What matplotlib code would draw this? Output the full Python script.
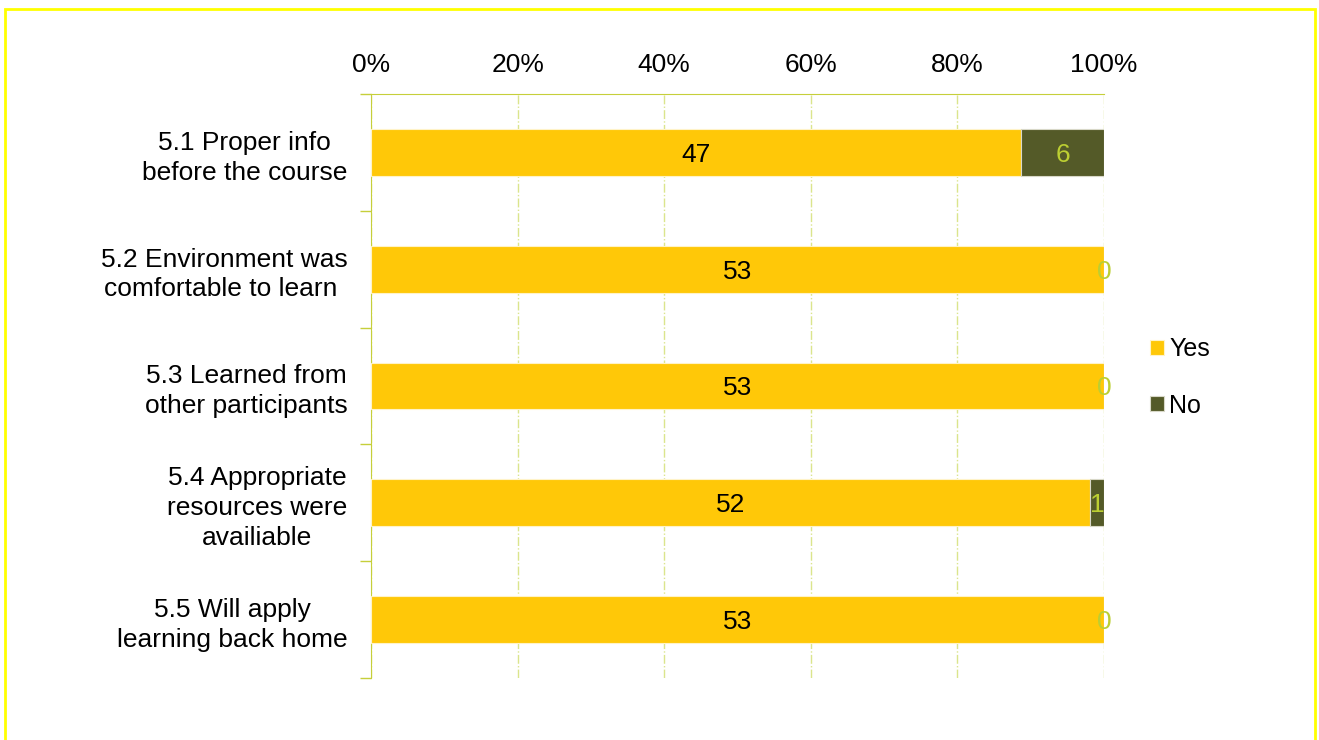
import matplotlib.pyplot as plt
from matplotlib.patches import Rectangle

plt.rcParams['font.family'] = ['Liberation Sans', 'DejaVu Sans']

categories = ["5.1 Proper info\nbefore the course",
              "5.2 Environment was\ncomfortable to learn ",
              "5.3 Learned from\nother participants",
              "5.4 Appropriate\nresources were\navailiable",
              "5.5 Will apply\nlearning back home"]
yes_counts = [47, 53, 53, 52, 53]
no_counts = [6, 0, 0, 1, 0]
x_ticks = [0, 20, 40, 60, 80, 100]

yellow = '#ffc808'
olive = '#545a28'
green_txt = '#bccf32'
axis_col = '#c6cf3a'
grid_col = '#dbe58c'

fig = plt.figure(figsize=(13.19, 7.40), dpi=100)
ax = fig.add_axes([0.2813, 0.0838, 0.5557, 0.7892])

pos = list(range(len(categories)))
tot = [y + n for y, n in zip(yes_counts, no_counts)]
yes_pct = [100 * y / t for y, t in zip(yes_counts, tot)]
no_pct = [100 * n / t for n, t in zip(no_counts, tot)]

bars_yes = ax.barh(pos, yes_pct, height=0.4, color=yellow, edgecolor='#fff3c8',
                   linewidth=0.8, label='Yes', zorder=3)
bars_no = ax.barh(pos, no_pct, left=yes_pct, height=0.4, color=olive,
                  edgecolor='#d8d8c8', linewidth=0.8, label='No', zorder=3)

# data labels
for i in pos:
    ax.text(yes_pct[i] / 2, i + 0.02, str(yes_counts[i]), ha='center', va='center',
            fontsize=19, color='black', zorder=4)
    ax.text(yes_pct[i] + no_pct[i] / 2, i + 0.02, str(no_counts[i]), ha='center',
            va='center', fontsize=19, color=green_txt, zorder=4)

ax.set_xlim(0, 100)
ax.set_ylim(len(categories) - 0.5, -0.5)

ax.xaxis.tick_top()
ax.set_xticks(x_ticks)
ax.set_xticklabels([f'{v}%' for v in x_ticks], fontsize=19)
ax.tick_params(axis='x', length=0, pad=12)

# boundary ticks on y, labels at centres
ax.set_yticks([p - 0.5 for p in pos] + [len(categories) - 0.5])
ax.set_yticklabels([])
ax.set_yticks(pos, minor=True)
ax.set_yticklabels(categories, minor=True, fontsize=19, multialignment='center',
                   linespacing=1.3)
ax.tick_params(axis='y', which='major', length=8, color=axis_col, width=1)
ax.tick_params(axis='y', which='minor', length=0, pad=17)

ax.grid(axis='x', color=grid_col, linestyle='-.', linewidth=1, zorder=0)
for s in ['right', 'bottom']:
    ax.spines[s].set_visible(False)
ax.spines['left'].set_color(axis_col)
ax.spines['top'].set_color(axis_col)

fig.legend(handles=[bars_yes, bars_no], labels=['Yes', 'No'],
           loc='center left', bbox_to_anchor=(0.855, 0.49), frameon=False,
           fontsize=18, handlelength=0.55, handleheight=0.55,
           handletextpad=0.2, labelspacing=1.3)

# yellow frame around the chart
fig.patches.append(Rectangle((0.004, -0.05), 0.993, 1.038, transform=fig.transFigure,
                             fill=False, edgecolor='#ffff00', linewidth=2))

fig.savefig('out.png', dpi=100)
